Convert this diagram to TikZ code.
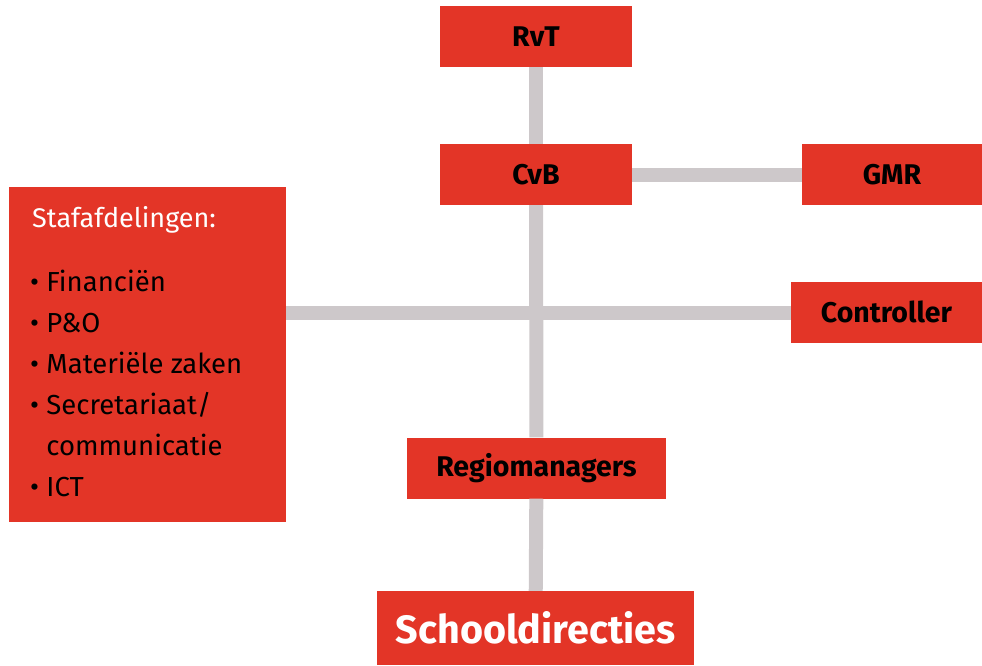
\documentclass[tikz,border=0pt]{standalone}
\usepackage{fontspec}
\setmainfont{Fira Sans}
\definecolor{boxred}{HTML}{E33527}
\definecolor{linegray}{HTML}{CDC8CA}
\begin{document}
\begin{tikzpicture}[x=1pt,y=-1pt,
  redbox/.style={fill=boxred,draw=none,inner sep=0pt,anchor=center,font=\fontsize{28.5}{32}\selectfont\bfseries,text=black},
  conn/.style={draw=linegray,line width=14pt}]
\useasboundingbox (0,0) rectangle (982,665);
% boxes
\node[redbox,minimum width=192pt,minimum height=61pt] (rvt) at (536,36.5) {RvT};
\node[redbox,minimum width=192pt,minimum height=61pt] (cvb) at (536,174.5) {CvB};
\node[redbox,minimum width=180pt,minimum height=61pt] (gmr) at (892,174.5) {GMR};
\node[redbox,minimum width=191pt,minimum height=61pt] (controller) at (886.5,312) {Controller};
\node[redbox,minimum width=259pt,minimum height=61pt] (regio) at (536.5,468) {Regiomanagers};
\node[redbox,minimum width=317pt,minimum height=74pt,text=white,font=\fontsize{39.5}{44}\selectfont\bfseries] (school) at (535.5,628) {Schooldirecties};
\node[redbox,minimum width=277pt,minimum height=335pt] (staf) at (147.5,354.5) {};
% staf text
\coordinate (hline) at (536,313);
\node[anchor=base west,inner sep=0pt,text=white,font=\fontsize{27}{32}\selectfont] (stafhead) at (32,227) {Stafafdelingen:};
\node[anchor=north west,inner sep=0pt,align=left,text=black,font=\fontsize{27.5}{41}\selectfont] (staflist) at (30,270) {%
\textbullet\ Financiën\\
\textbullet\ P\&O\\
\textbullet\ Materiële zaken\\
\textbullet\ Secretariaat/\\
\hphantom{\textbullet}\ communicatie\\
\textbullet\ ICT};
% connectors
\draw[conn] (rvt) -- (cvb);
\draw[conn] (cvb) -- (regio);
\draw[conn] (regio) -- (school);
\draw[conn] (cvb) -- (gmr);
\draw[conn] (staf.east |- hline) -- (controller.west |- hline);
\end{tikzpicture}
\end{document}
